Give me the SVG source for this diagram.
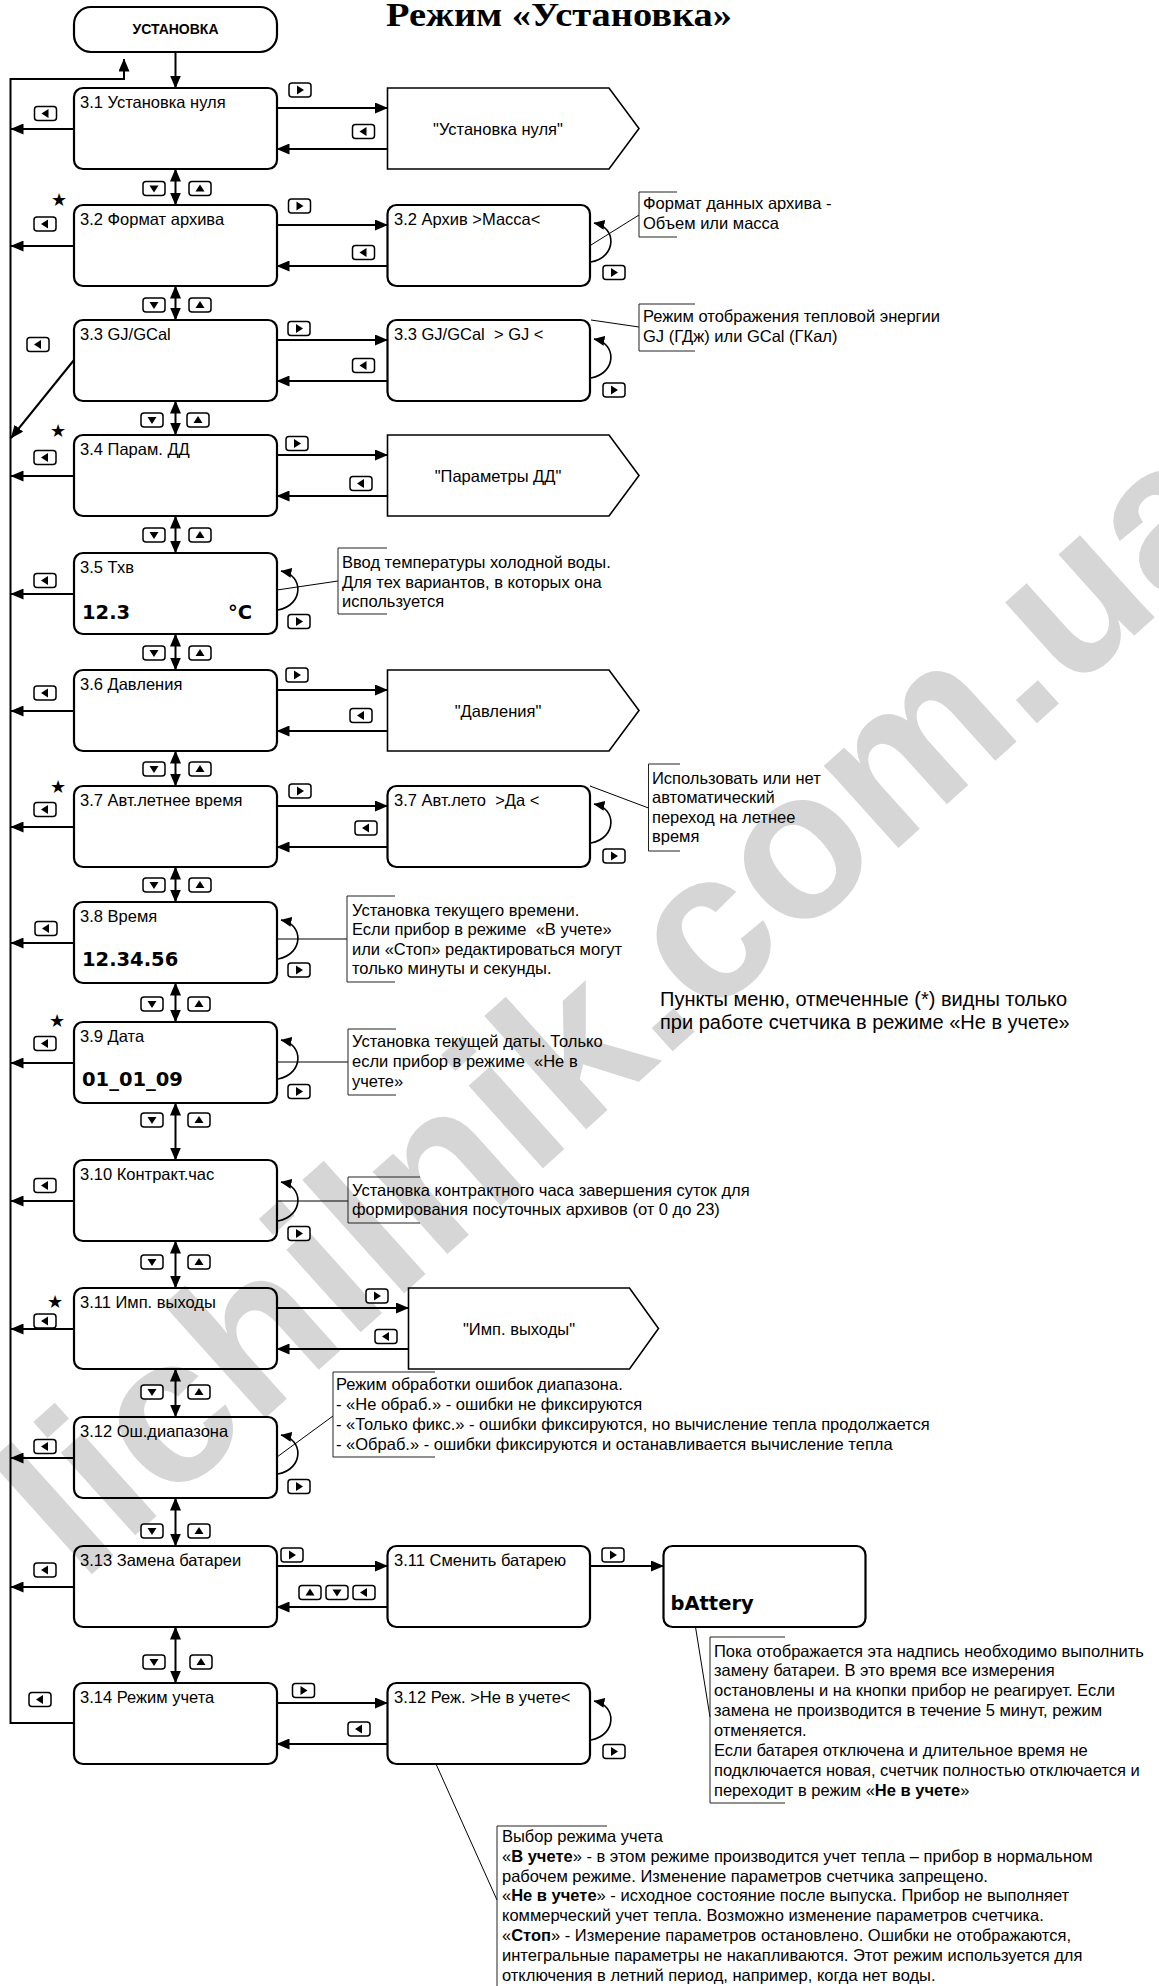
<svg xmlns="http://www.w3.org/2000/svg" width="1159" height="1986" viewBox="0 0 1159 1986">
<style>
.box{fill:none;stroke:#000;stroke-width:2.2}
.pent{fill:none;stroke:#000;stroke-width:1.6}
.ln{fill:none;stroke:#000;stroke-width:2}
.lp{fill:none;stroke:#000;stroke-width:1.6}
.lead{fill:none;stroke:#000;stroke-width:1}
.br{fill:none;stroke:#222;stroke-width:1}
text{font-family:"Liberation Sans",Arial,sans-serif;font-size:16.5px;fill:#000;white-space:pre}
.big{font-family:"DejaVu Sans",Verdana,sans-serif;font-weight:bold;font-size:19.5px}
.star{font-family:"DejaVu Sans",sans-serif;font-size:18px;text-anchor:middle}
.mid{text-anchor:middle}
.b{font-weight:bold}
.ubold{font-weight:bold;font-size:14px}
.title{font-family:"Liberation Serif","Times New Roman",serif;font-weight:bold;font-size:34px}
.wm{font-family:"Liberation Sans",Arial,sans-serif;font-weight:bold;font-size:210px;fill:#d6d6d6}
.btn{fill:#fff;stroke:#000;stroke-width:1.5}
</style>
<defs>
<marker id="a" markerUnits="userSpaceOnUse" markerWidth="13" markerHeight="11" viewBox="0 0 13 11" refX="12.5" refY="5.5" orient="auto-start-reverse"><path d="M0,0 L13,5.5 L0,11z"/></marker>
<marker id="s" markerUnits="userSpaceOnUse" markerWidth="11" markerHeight="10" viewBox="0 0 11 10" refX="10.5" refY="5" orient="auto"><path d="M0,0 L11,5 L0,10z"/></marker>
<g id="bR"><rect class="btn" x="-11" y="-7" width="22" height="14" rx="3"/><path d="M-3,-4.5 L4,0 L-3,4.5z"/></g>
<g id="bL"><rect class="btn" x="-11" y="-7" width="22" height="14" rx="3"/><path d="M3,-4.5 L-4,0 L3,4.5z"/></g>
<g id="bD"><rect class="btn" x="-11" y="-7" width="22" height="14" rx="3"/><path d="M-4.5,-3 L4.5,-3 L0,4z"/></g>
<g id="bU"><rect class="btn" x="-11" y="-7" width="22" height="14" rx="3"/><path d="M-4.5,3 L4.5,3 L0,-4z"/></g>
</defs>
<rect width="1159" height="1986" fill="#fff"/>
<text class="wm" x="81" y="1584" transform="rotate(-42 81 1584)">lichilnik.com.ua</text>
<text class="title" x="386" y="26" textLength="346" lengthAdjust="spacingAndGlyphs">Режим «Установка»</text>

<g id="n_top"><rect class="box" x="74" y="7" width="203" height="45" rx="17"/><text class="mid ubold" x="175.5" y="34">УСТАНОВКА</text></g>

<g id="n3_1"><rect class="box" x="74" y="88" width="203" height="81" rx="9"/><text x="80" y="108">3.1 Установка нуля</text></g>
<g id="n3_2"><rect class="box" x="74" y="205" width="203" height="81" rx="9"/><text x="80" y="225">3.2 Формат архива</text></g>
<g id="n3_3"><rect class="box" x="74" y="320" width="203" height="81" rx="9"/><text x="80" y="340">3.3 GJ/GCal</text></g>
<g id="n3_4"><rect class="box" x="74" y="435" width="203" height="81" rx="9"/><text x="80" y="455">3.4 Парам. ДД</text></g>
<g id="n3_5"><rect class="box" x="74" y="553" width="203" height="81" rx="9"/><text x="80" y="573">3.5 Тхв</text><text class="big" x="82" y="619">12.3</text><text class="big" x="228" y="619">°C</text></g>
<g id="n3_6"><rect class="box" x="74" y="670" width="203" height="81" rx="9"/><text x="80" y="690">3.6 Давления</text></g>
<g id="n3_7"><rect class="box" x="74" y="786" width="203" height="81" rx="9"/><text x="80" y="806">3.7 Авт.летнее время</text></g>
<g id="n3_8"><rect class="box" x="74" y="902" width="203" height="81" rx="9"/><text x="80" y="922">3.8 Время</text><text class="big" x="82" y="966">12.34.56</text></g>
<g id="n3_9"><rect class="box" x="74" y="1022" width="203" height="81" rx="9"/><text x="80" y="1042">3.9 Дата</text><text class="big" x="82" y="1086">01_01_09</text></g>
<g id="n3_10"><rect class="box" x="74" y="1160" width="203" height="81" rx="9"/><text x="80" y="1180">3.10 Контракт.час</text></g>
<g id="n3_11"><rect class="box" x="74" y="1288" width="203" height="81" rx="9"/><text x="80" y="1308">3.11 Имп. выходы</text></g>
<g id="n3_12"><rect class="box" x="74" y="1417" width="203" height="81" rx="9"/><text x="80" y="1437">3.12 Ош.диапазона</text></g>
<g id="n3_13"><rect class="box" x="74" y="1546" width="203" height="81" rx="9"/><text x="80" y="1566">3.13 Замена батареи</text></g>
<g id="n3_14"><rect class="box" x="74" y="1683" width="203" height="81" rx="9"/><text x="80" y="1703">3.14 Режим учета</text></g>

<g id="p3_1"><path class="pent" d="M387.5,88 H609 L639,128.5 L609,169 H387.5z"/><text class="mid" x="498" y="135">"Установка нуля"</text></g>
<g id="s3_2"><rect class="box" x="387.5" y="205" width="202.5" height="81" rx="9"/><text x="394" y="225">3.2 Архив &gt;Масса&lt;</text></g>
<g id="s3_3"><rect class="box" x="387.5" y="320" width="202.5" height="81" rx="9"/><text x="394" y="340">3.3 GJ/GCal  &gt; GJ &lt;</text></g>
<g id="p3_4"><path class="pent" d="M387.5,435 H609 L639,475.5 L609,516 H387.5z"/><text class="mid" x="498" y="482">"Параметры ДД"</text></g>
<g id="p3_6"><path class="pent" d="M387.5,670 H609 L639,710.5 L609,751 H387.5z"/><text class="mid" x="498" y="717">"Давления"</text></g>
<g id="s3_7"><rect class="box" x="387.5" y="786" width="202.5" height="81" rx="9"/><text x="394" y="806">3.7 Авт.лето  &gt;Да &lt;</text></g>
<g id="p3_11"><path class="pent" d="M408.5,1288 H629.5 L658.5,1328.5 L629.5,1369 H408.5z"/><text class="mid" x="519" y="1335">"Имп. выходы"</text></g>
<g id="s3_13"><rect class="box" x="387.5" y="1546" width="202.5" height="81" rx="9"/><text x="394" y="1566">3.11 Сменить батарею</text></g>
<g id="s_batt"><rect class="box" x="663.5" y="1546" width="202" height="81" rx="9"/><text class="big" x="670.5" y="1610">bAttery</text></g>
<g id="s3_14"><rect class="box" x="387.5" y="1683" width="202.5" height="81" rx="9"/><text x="394" y="1703">3.12 Реж. &gt;Не в учете&lt;</text></g>

<g id="stars">
<text class="star" x="59" y="206">★</text>
<text class="star" x="58" y="437">★</text>
<text class="star" x="58" y="793">★</text>
<text class="star" x="57" y="1027">★</text>
<text class="star" x="55" y="1308">★</text>
</g>

<g id="connectors">
<path class="ln" d="M175.5,52 V88" marker-end="url(#a)"/>
<path class="ln" stroke-width="2.4" d="M74,1723 H10.5 V79 H124 V59" marker-end="url(#a)"/>
<path class="ln" d="M74,129 H11" marker-end="url(#a)"/>
<path class="ln" d="M74,246 H11" marker-end="url(#a)"/>
<path class="ln" d="M74,360 L11,438" marker-end="url(#a)"/>
<path class="ln" d="M74,476 H11" marker-end="url(#a)"/>
<path class="ln" d="M74,594 H11" marker-end="url(#a)"/>
<path class="ln" d="M74,711 H11" marker-end="url(#a)"/>
<path class="ln" d="M74,827 H11" marker-end="url(#a)"/>
<path class="ln" d="M74,943 H11" marker-end="url(#a)"/>
<path class="ln" d="M74,1063 H11" marker-end="url(#a)"/>
<path class="ln" d="M74,1201 H11" marker-end="url(#a)"/>
<path class="ln" d="M74,1329 H11" marker-end="url(#a)"/>
<path class="ln" d="M74,1458 H11" marker-end="url(#a)"/>
<path class="ln" d="M74,1587 H11" marker-end="url(#a)"/>

<path class="ln" d="M175.5,169 V205" marker-start="url(#a)" marker-end="url(#a)"/>
<path class="ln" d="M175.5,286 V320" marker-start="url(#a)" marker-end="url(#a)"/>
<path class="ln" d="M175.5,401 V435" marker-start="url(#a)" marker-end="url(#a)"/>
<path class="ln" d="M175.5,516 V553" marker-start="url(#a)" marker-end="url(#a)"/>
<path class="ln" d="M175.5,634 V670" marker-start="url(#a)" marker-end="url(#a)"/>
<path class="ln" d="M175.5,751 V786" marker-start="url(#a)" marker-end="url(#a)"/>
<path class="ln" d="M175.5,867 V902" marker-start="url(#a)" marker-end="url(#a)"/>
<path class="ln" d="M175.5,983 V1022" marker-start="url(#a)" marker-end="url(#a)"/>
<path class="ln" d="M175.5,1103 V1160" marker-start="url(#a)" marker-end="url(#a)"/>
<path class="ln" d="M175.5,1241 V1288" marker-start="url(#a)" marker-end="url(#a)"/>
<path class="ln" d="M175.5,1369 V1417" marker-start="url(#a)" marker-end="url(#a)"/>
<path class="ln" d="M175.5,1498 V1546" marker-start="url(#a)" marker-end="url(#a)"/>
<path class="ln" d="M175.5,1627 V1683" marker-start="url(#a)" marker-end="url(#a)"/>

<path class="ln" d="M277,108 H387.5" marker-end="url(#a)"/>
<path class="ln" d="M387.5,149 H277" marker-end="url(#a)"/>
<path class="ln" d="M277,225 H387.5" marker-end="url(#a)"/>
<path class="ln" d="M387.5,266 H277" marker-end="url(#a)"/>
<path class="ln" d="M277,340 H387.5" marker-end="url(#a)"/>
<path class="ln" d="M387.5,381 H277" marker-end="url(#a)"/>
<path class="ln" d="M277,455 H387.5" marker-end="url(#a)"/>
<path class="ln" d="M387.5,496 H277" marker-end="url(#a)"/>
<path class="ln" d="M277,690 H387.5" marker-end="url(#a)"/>
<path class="ln" d="M387.5,731 H277" marker-end="url(#a)"/>
<path class="ln" d="M277,806 H387.5" marker-end="url(#a)"/>
<path class="ln" d="M387.5,847 H277" marker-end="url(#a)"/>
<path class="ln" d="M277,1308 H408.5" marker-end="url(#a)"/>
<path class="ln" d="M408.5,1349 H277" marker-end="url(#a)"/>
<path class="ln" d="M277,1566 H387.5" marker-end="url(#a)"/>
<path class="ln" d="M387.5,1607 H277" marker-end="url(#a)"/>
<path class="ln" d="M590,1566 H663.5" marker-end="url(#a)"/>
<path class="ln" d="M277,1703 H387.5" marker-end="url(#a)"/>
<path class="ln" d="M387.5,1744 H277" marker-end="url(#a)"/>

<path class="lp" d="M278,610 C304,605 304,575 281,571" marker-end="url(#s)"/>
<path class="lp" d="M278,959 C304,954 304,924 281,920" marker-end="url(#s)"/>
<path class="lp" d="M278,1079 C304,1074 304,1044 281,1040" marker-end="url(#s)"/>
<path class="lp" d="M278,1221 C304,1216 304,1186 281,1182" marker-end="url(#s)"/>
<path class="lp" d="M278,1474 C304,1469 304,1439 281,1435" marker-end="url(#s)"/>
<path class="lp" d="M591,262 C617,257 617,227 594,223" marker-end="url(#s)"/>
<path class="lp" d="M591,378 C617,373 617,343 594,339" marker-end="url(#s)"/>
<path class="lp" d="M591,843 C617,838 617,808 594,804" marker-end="url(#s)"/>
<path class="lp" d="M591,1740 C617,1735 617,1705 594,1701" marker-end="url(#s)"/>

<path class="lead" d="M591,245 L639,215"/>
<path class="lead" d="M591,320 L639,327"/>
<path class="lead" d="M277,590 L338,581"/>
<path class="lead" d="M590,786 L648.5,808"/>
<path class="lead" d="M277,939 H347"/>
<path class="lead" stroke="#666" d="M277,1062 H348"/>
<path class="lead" d="M277,1201 H348"/>
<path class="lead" d="M277,1457 L333,1416"/>
<path class="lead" d="M695.5,1627 L710,1717"/>
<path class="lead" d="M436,1764 L497,1900"/>
</g>

<g id="buttons">
<use href="#bR" x="300" y="90"/><use href="#bL" x="363.5" y="131.5"/><use href="#bL" x="45.5" y="113.5"/>
<use href="#bR" x="299.5" y="206"/><use href="#bL" x="363.5" y="252.5"/><use href="#bL" x="45" y="224"/><use href="#bR" x="614" y="272.5"/>
<use href="#bR" x="299" y="328.5"/><use href="#bL" x="363.5" y="365.5"/><use href="#bL" x="38" y="344.5"/><use href="#bR" x="614" y="390"/>
<use href="#bR" x="297" y="443.5"/><use href="#bL" x="361" y="483.5"/><use href="#bL" x="45" y="457.5"/>
<use href="#bL" x="45" y="580.5"/><use href="#bR" x="299" y="621.5"/>
<use href="#bR" x="297" y="675"/><use href="#bL" x="361" y="715.5"/><use href="#bL" x="45" y="693"/>
<use href="#bR" x="300" y="791"/><use href="#bL" x="366" y="828"/><use href="#bL" x="45" y="809.5"/><use href="#bR" x="614" y="856"/>
<use href="#bL" x="46" y="928.5"/><use href="#bR" x="299" y="970"/>
<use href="#bL" x="45" y="1043.5"/><use href="#bR" x="299" y="1091.5"/>
<use href="#bL" x="45" y="1185.5"/><use href="#bR" x="299" y="1233.5"/>
<use href="#bR" x="377" y="1296"/><use href="#bL" x="386" y="1336.5"/><use href="#bL" x="45" y="1321"/>
<use href="#bL" x="45" y="1446.5"/><use href="#bR" x="299" y="1486.5"/>
<use href="#bR" x="292" y="1555"/><use href="#bU" x="310" y="1592.5"/><use href="#bD" x="337" y="1592.5"/><use href="#bL" x="364" y="1592.5"/><use href="#bL" x="45" y="1570"/><use href="#bR" x="613" y="1555"/>
<use href="#bR" x="303.5" y="1690.5"/><use href="#bL" x="359" y="1729"/><use href="#bL" x="40" y="1699.5"/><use href="#bR" x="614" y="1751.5"/>
<use href="#bD" x="154" y="188.5"/><use href="#bU" x="200" y="188.5"/>
<use href="#bD" x="154" y="305"/><use href="#bU" x="200" y="305"/>
<use href="#bD" x="152" y="420"/><use href="#bU" x="198" y="420"/>
<use href="#bD" x="154" y="535"/><use href="#bU" x="200" y="535"/>
<use href="#bD" x="154" y="653"/><use href="#bU" x="200" y="653"/>
<use href="#bD" x="154" y="769"/><use href="#bU" x="200" y="769"/>
<use href="#bD" x="154" y="885"/><use href="#bU" x="200" y="885"/>
<use href="#bD" x="152" y="1004"/><use href="#bU" x="199" y="1004"/>
<use href="#bD" x="152" y="1120"/><use href="#bU" x="199" y="1120"/>
<use href="#bD" x="152" y="1262"/><use href="#bU" x="199" y="1262"/>
<use href="#bD" x="152" y="1392"/><use href="#bU" x="199" y="1392"/>
<use href="#bD" x="152" y="1531"/><use href="#bU" x="199" y="1531"/>
<use href="#bD" x="154" y="1662"/><use href="#bU" x="201" y="1662"/>
</g>

<g id="note3_2"><path class="br" d="M677,192 H639 V237 H677"/><text x="643"><tspan x="643" y="209">Формат данных архива -</tspan><tspan x="643" y="229">Объем или масса</tspan></text></g>
<g id="note3_3"><path class="br" d="M695,304 H639 V351 H695"/><text x="643"><tspan x="643" y="322">Режим отображения тепловой энергии</tspan><tspan x="643" y="342">GJ (ГДж) или GCal (ГКал)</tspan></text></g>
<g id="note3_5"><path class="br" d="M387,548 H338 V614 H387"/><text><tspan x="342" y="568">Ввод температуры холодной воды.</tspan><tspan x="342" y="588">Для тех вариантов, в которых она</tspan><tspan x="342" y="607">используется</tspan></text></g>
<g id="note3_7"><path class="br" d="M680,764 H648.5 V851 H680"/><text><tspan x="652" y="784">Использовать или нет</tspan><tspan x="652" y="803">автоматический</tspan><tspan x="652" y="823">переход на летнее</tspan><tspan x="652" y="842">время</tspan></text></g>
<g id="note3_8"><path class="br" d="M395,896 H347 V982 H395"/><text><tspan x="352" y="916">Установка текущего времени.</tspan><tspan x="352" y="935">Если прибор в режиме  «В учете»</tspan><tspan x="352" y="955">или «Стоп» редактироваться могут</tspan><tspan x="352" y="974">только минуты и секунды.</tspan></text></g>
<g id="note3_9"><path class="br" d="M396,1029 H348 V1095 H396"/><text><tspan x="352" y="1047">Установка текущей даты. Только</tspan><tspan x="352" y="1067">если прибор в режиме  «Не в</tspan><tspan x="352" y="1087">учете»</tspan></text></g>
<g id="note3_10"><path class="br" d="M420,1177 H348 V1223 H420"/><text><tspan x="352" y="1196">Установка контрактного часа завершения суток для</tspan><tspan x="352" y="1215">формирования посуточных архивов (от 0 до 23)</tspan></text></g>
<g id="note3_12"><path class="br" d="M435,1372 H333 V1457 H435"/><text><tspan x="336" y="1390">Режим обработки ошибок диапазона.</tspan><tspan x="336" y="1410">- «Не обраб.» - ошибки не фиксируются</tspan><tspan x="336" y="1430">- «Только фикс.» - ошибки фиксируются, но вычисление тепла продолжается</tspan><tspan x="336" y="1450">- «Обраб.» - ошибки фиксируются и останавливается вычисление тепла</tspan></text></g>
<g id="note_batt"><path class="br" d="M785,1637 H710 V1803 H785"/><text><tspan x="714" y="1657">Пока отображается эта надпись необходимо выполнить</tspan><tspan x="714" y="1676">замену батареи. В это время все измерения</tspan><tspan x="714" y="1696">остановлены и на кнопки прибор не реагирует. Если</tspan><tspan x="714" y="1716">замена не производится в течение 5 минут, режим</tspan><tspan x="714" y="1736">отменяется.</tspan><tspan x="714" y="1756">Если батарея отключена и длительное время не</tspan><tspan x="714" y="1776">подключается новая, счетчик полностью отключается и</tspan><tspan x="714" y="1796">переходит в режим «<tspan class="b">Не в учете</tspan>»</tspan></text></g>
<g id="note3_14"><path class="br" d="M607,1826 H497 V1986"/><text><tspan x="502" y="1842">Выбор режима учета</tspan><tspan x="502" y="1862">«<tspan class="b">В учете</tspan>» - в этом режиме производится учет тепла – прибор в нормальном</tspan><tspan x="502" y="1882">рабочем режиме. Изменение параметров счетчика запрещено.</tspan><tspan x="502" y="1901">«<tspan class="b">Не в учете</tspan>» - исходное состояние после выпуска. Прибор не выполняет</tspan><tspan x="502" y="1921">коммерческий учет тепла. Возможно изменение параметров счетчика.</tspan><tspan x="502" y="1941">«<tspan class="b">Стоп</tspan>» - Измерение параметров остановлено. Ошибки не отображаются,</tspan><tspan x="502" y="1961">интегральные параметры не накапливаются. Этот режим используется для</tspan><tspan x="502" y="1981">отключения в летний период, например, когда нет воды.</tspan></text></g>

<g id="legend"><text style="font-size:20px"><tspan x="660" y="1006">Пункты меню, отмеченные (*) видны только</tspan><tspan x="660" y="1029">при работе счетчика в режиме «Не в учете»</tspan></text></g>
</svg>
